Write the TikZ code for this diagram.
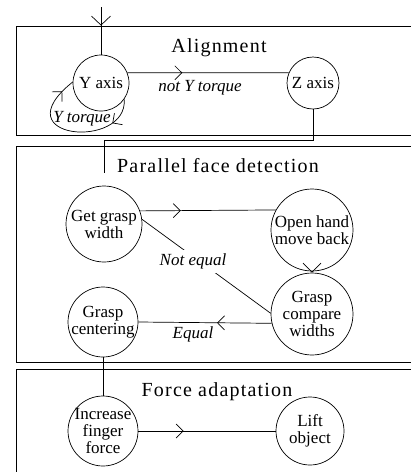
\documentclass[tikz,border=0pt]{standalone}
\usepackage{fontspec}
\setmainfont{Liberation Serif}
\newfontfamily\titlefont[LetterSpace=6]{Liberation Serif}
\usetikzlibrary{arrows.meta,decorations.markings,calc}
\begin{document}
\begin{tikzpicture}[x=1pt,y=-1pt,line width=0.7pt,
  st/.style={circle,draw,minimum size=#1,inner sep=0pt},
  txt/.style={align=center,font=\fontsize{17}{17}\selectfont,inner sep=0pt},
  lab/.style={font=\fontsize{17}{17}\selectfont\itshape,inner sep=0pt},
  ttl/.style={font=\titlefont\fontsize{20}{20}\selectfont,inner sep=0pt},
  midarr/.style={postaction={decorate,decoration={markings,mark=at position #1 with {\arrow{Straight Barb[length=7pt,width=14pt]}}}}},
  midarrbig/.style={postaction={decorate,decoration={markings,mark=at position #1 with {\arrow{Straight Barb[length=9pt,width=19pt]}}}}},
  endarr/.style={-{Straight Barb[length=9pt,width=18pt]}}
]
\useasboundingbox (0,0) rectangle (411,472);
\clip (0,0) rectangle (411,472);
% boxes
\draw (16,26) rectangle (430,135);
\draw (16,146) rectangle (430,362);
\draw (16,369) rectangle (430,490);
% titles
\node[ttl] (t1) at (219,48) {Alignment};
\node[ttl] (t2) at (218,166) {Parallel face detection};
\node[ttl] (t3) at (217,392) {Force adaptation};
% states
\node[st=56,label={[txt]center:Y axis}] (ya) at (101,83) {};
\node[st=52,label={[txt]center:Z axis}] (za) at (313,83) {};
\node[st=76,label={[txt]center:Get grasp\\width}] (ggw) at (104,224) {};
\node[st=82,label={[txt]center:Open hand\\move back}] (oh) at (312,230) {};
\node[st=82,label={[txt]center:Grasp\\compare\\widths}] (cmp) at (312,314) {};
\node[st=70,label={[txt]center:Grasp\\centering}] (gc) at (103,322) {};
\node[st=70,label={[txt]center:Increase\\finger\\force}] (iff) at (103,431) {};
\node[st=68,label={[txt]center:Lift\\object}] (lo) at (310,431) {};
% connectors
\coordinate (start) at (101,7);
\draw[midarrbig=0.39] (start) -- (ya.north);
\draw[midarr=0.34] (ya.21) -- (za.157);
\node[lab] (nyt) at (200,88) {not Y torque};
\draw[postaction={decorate,decoration={markings,
    mark=at position 0.2 with {\arrow{Straight Barb[length=7pt,width=14pt]}},
    mark=at position 0.9 with {\arrow{Straight Barb[length=7pt,width=14pt]}}}}]
  (ya.-35) .. controls (128,150) and (0,140) .. (ya.178);
\node[lab] (yt) at (82,119) {Y torque};
\coordinate (zend) at (104,173);
\draw (za.south) -- ++(0,31) -| (zend);
\draw[midarr=0.3] (ggw.20) -- (oh.151);
\draw[endarr] (oh.south) -- (cmp.north);
\draw (cmp.179) -- (ggw.7);
\node[lab,fill=white,inner xsep=2pt,inner ysep=4pt] (ne) at (193,261.5) {Not equal};
\draw[midarr=0.41] (cmp.193) -- (gc.east);
\node[lab] (eq) at (193,334) {Equal};
\draw (gc.south) -- (iff.north);
\draw[midarr=0.33] (iff.east) -- (lo.west);
\end{tikzpicture}
\end{document}
